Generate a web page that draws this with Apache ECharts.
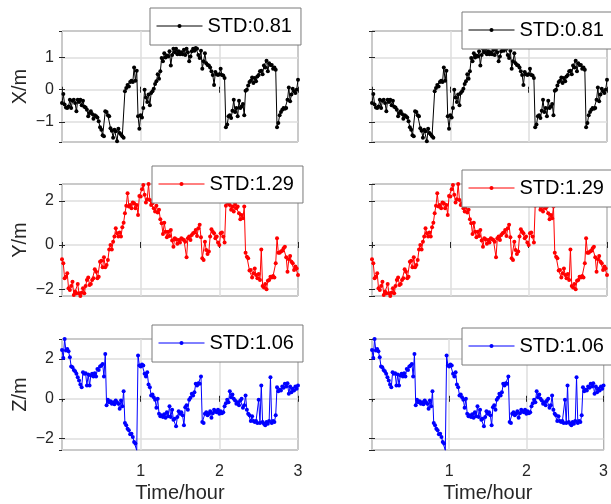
<!DOCTYPE html>
<html>
<head>
<meta charset="utf-8">
<script src="https://cdn.jsdelivr.net/npm/echarts@6/dist/echarts.min.js"></script>
<style>
    html, body { margin: 0; padding: 0; background: #fff; }
    #main { width: 611px; height: 504px; }
</style>
</head>
<body>
<div id="main"></div>
<script>
// position error per axis, one sample per minute over 3 hours
var xValues = [
    -0.41, -0.13, -0.46, -0.55, -0.57, -0.52, -0.31, -0.57, -0.34, -0.31,
    -0.41, -0.67, -0.31, -0.38, -0.31, -0.48, -0.34, -0.53, -0.55, -0.62,
    -0.82, -0.72, -0.67, -0.75, -0.90, -0.79, -0.82, -0.86, -0.98, -1.16,
    -1.24, -1.41, -1.44, -0.67, -0.69, -0.79, -0.82, -1.19, -1.27, -1.49,
    -1.24, -1.29, -1.60, -1.21, -1.34, -1.39, -1.44, -1.49, -0.05, 0.05,
    0.15, 0.10, 0.24, 0.28, 0.24, 0.69, 0.28, 0.59, -0.82, -1.21,
    -0.79, -0.86, -0.57, 0.00, -0.24, -0.38, -0.15, -0.48, -0.10, -0.05,
    0.03, 0.18, 0.26, 0.48, 0.34, 0.57, 0.98, 0.88, 1.13, 1.00,
    1.06, 1.03, 1.19, 0.75, 1.08, 1.27, 1.16, 1.27, 1.10, 1.19,
    1.10, 1.16, 1.10,
    1.24, 1.08, 1.27, 1.16, 0.88, 1.03, 1.19, 1.27, 1.21, 1.29,
    1.27, 1.08, 0.98, 1.21, 0.65, 0.88, 1.13, 0.82, 0.77, 0.75,
    0.69, 0.57, 0.46, 0.15, 0.55, 0.48, 0.46, 0.48, 0.65, 0.46,
    0.44, 0.36, -1.16, -1.08, -0.82, -0.79, -0.88, -0.65, -0.31, -0.69,
    -0.57, -0.82, -0.34, -0.57, -0.52, -0.44, -0.79, -0.03, 0.00, 0.13,
    0.24, 0.28, 0.38, 0.21, 0.36, 0.26, 0.41, 0.46, 0.57, 0.59,
    0.48, 0.75, 0.69, 0.90, 0.57, 0.82, 0.77, 0.77, 0.65, 0.69,
    0.62, -1.16, -1.03, -0.79, -0.69, -0.62, -0.57, -0.59, -0.57, -0.31,
    0.07, -0.36, -0.15, 0.03, -0.05, -0.10, 0.00, 0.31
];

var yValues = [
    -0.65, -0.83, -1.51, -1.44, -1.28, -1.96, -2.04, -1.86, -1.66, -2.27,
    -2.11, -2.19, -1.77, -2.19, -2.31, -2.16, -1.96, -2.19, -1.86, -1.59,
    -1.47, -1.81, -1.77, -1.59, -1.51, -1.10, -1.21, -1.51, -1.44, -0.76,
    -0.71, -1.01, -0.56, -1.01, -0.91, -0.68, -0.20, 0.00, -0.20, 0.15,
    0.38, 0.76, 0.53, 0.38, 0.56, 0.38, 0.80, 1.01, 1.44, 1.77,
    2.34, 1.74, 1.81, 1.66, 1.92, 1.89, 1.66, 1.81, 1.36, 2.22,
    2.19, 2.52, 2.72, 2.27, 1.92, 2.07, 2.76, 2.04, 1.81, 1.89,
    1.66, 1.51, 1.77, 1.47, 1.59, 1.16, 0.98, 0.50, 1.01, 0.60,
    0.35, 0.60, 0.41, 0.68, 0.20, -0.08, 0.30, 0.26, 0.05, 0.23,
    0.11, 0.30, 0.26,
    0.23, 0.15, -0.56, 0.30, 0.38, 0.23, 0.45, 0.53, 0.56, 0.68,
    0.41, 0.76, 0.91, 0.35, -0.60, -0.68, 0.15, -0.23, -0.41, -0.30,
    0.38, 0.71, 0.60, 0.53, 0.30, 0.38, 0.11, 0.00, 0.53, 0.56,
    0.38, 0.11, 1.77, 2.34, 1.89, 1.81, 1.59, 1.74, 1.51, 1.86,
    1.66, 1.74, 1.44, 1.16, 1.36, 1.21, 1.74, -0.35, -0.53, -0.60,
    -1.16, -1.13, -1.47, -1.28, -1.06, -1.36, -1.51, -1.31, -1.59, -0.20,
    -1.86, -1.92, -1.77, -2.01, -1.62, -1.59, -1.44, -1.47, -1.40, -1.47,
    -0.83, 0.30, -0.35, -0.35, -0.30, -0.26, -0.15, -0.08, -0.56, -1.21,
    -0.65, -0.50, -0.76, -0.83, -1.13, -0.98, -1.06, -1.36
];

var zValues = [
    2.45, 2.05, 3.00, 2.42, 2.50, 2.38, 2.08, 1.62, 1.58, 1.45,
    1.38, 1.25, 1.08, 0.92, 0.72, 0.58, 1.33, 1.25, 1.28, 0.67,
    1.22, 0.67, 1.17, 1.25, 1.12, 1.28, 1.12, 1.50, 1.45, 1.62,
    1.67, 1.75, 1.12, 2.25, -0.33, -0.05, -0.17, -0.12, -0.25, -0.17,
    -0.28, -0.08, -0.17, -0.25, -0.50, -0.08, -0.38, 0.38, -1.22, -1.33,
    -1.50, -1.58, -1.78, -1.75, -1.92, -2.17, -2.25, -2.59, 2.17, 1.67,
    1.62, 1.72, 1.67, 1.25, 1.12, 1.33, 0.72, 0.58, 0.17, 0.22,
    0.08, -0.05, -0.45, 0.00, -0.75, -0.88, -0.83, -0.92, -0.78, -0.95,
    -0.67, -0.88, -0.38, -0.92, -0.55, -1.05, -1.00, -1.38, -0.92, -0.62,
    -0.75, -0.67, -0.83,
    -1.33, -0.42, -0.33, -0.55, -0.05, 0.05, 0.25, 0.17, 0.33, 0.75,
    0.67, 0.78, 0.75, 1.12, -1.17, -1.22, -0.75, -0.67, -0.83, -0.75,
    -0.62, -0.95, -0.72, -0.55, -0.62, -0.67, -0.55, -0.75, -0.62, -0.72,
    -0.67, -0.38, -0.22, -0.05, -0.17, 0.38, 0.08, 0.22, 0.00, -0.08,
    -0.25, -0.17, -0.33, -0.08, 0.00, -0.45, -0.33, 0.17, -0.55, -0.75,
    -0.83, -1.12, -0.88, -1.12, -1.17, -1.12, -1.22, -0.05, -1.22, 0.67,
    -1.17, -1.25, -1.33, -1.17, -1.25, -1.12, 1.08, -1.22, -1.12, -1.17,
    -0.83, 0.58, 0.38, 0.45, 0.42, 0.62, 0.55, 0.75, 0.62, 0.78,
    0.25, 0.62, 0.33, 0.50, 0.42, 0.62, 0.50, 0.67
];

var stdLabels = ['STD:0.81', 'STD:1.29', 'STD:1.06'];
var axisNames = ['X/m', 'Y/m', 'Z/m'];
var timeName = 'Time/hour';

// sample times in hours (1 minute steps)
var hours = [];
for (var i = 0; i < xValues.length; i++) {
    hours.push(i / 60);
}

var FONT = 'Liberation Sans, Arial, sans-serif';
var TEXT = '#262626';
var GRID_LINE = '#dedede';

var rows = [
    {values: xValues, color: '#000000', min: -1.62, max: 1.82},
    {values: yValues, color: '#ff0000', min: -2.31, max: 2.76},
    {values: zValues, color: '#0000ff', min: -2.57, max: 3.0}
];

var colLeft = [62, 372];
var colWidth = [236, 235];
var rowTop = [31, 184, 339];
var rowHeight = [111, 112, 111];
var legendLeft = [[150, 462], [152, 462], [152, 462]];
var legendTop = [[8, 12], [166, 170], [325, 328]];

function minusSign(v) {
    return String(v).replace('-', '\u2212');
}

function pairs(values) {
    return values.map(function (v, k) {
        return [hours[k], v];
    });
}

var option = {
    animation: false,
    grid: [], xAxis: [], yAxis: [], series: [], legend: []
};

rows.forEach(function (row, r) {
    for (var c = 0; c < 2; c++) {
        var g = option.grid.length;
        option.grid.push({
            left: colLeft[c], top: rowTop[r], width: colWidth[c], height: rowHeight[r],
            show: true, borderColor: TEXT, borderWidth: 1, backgroundColor: 'transparent'
        });

        // bottom + top x axes (top one only for the box ticks)
        option.xAxis.push({
            type: 'value', gridIndex: g, min: 0, max: 3, interval: 1, position: 'bottom',
            axisLine: {show: false},
            axisTick: {inside: true, length: 3, lineStyle: {color: TEXT}},
            axisLabel: {show: r === 2, showMinLabel: false, margin: 14, fontSize: 16, color: TEXT, fontFamily: FONT},
            splitLine: {show: true, lineStyle: {color: GRID_LINE, width: 1.5}},
            name: r === 2 ? timeName : '', nameLocation: 'middle', nameGap: 33,
            nameTextStyle: {fontSize: 20, color: TEXT, fontFamily: FONT}
        });
        option.xAxis.push({
            type: 'value', gridIndex: g, min: 0, max: 3, interval: 1, position: 'top',
            axisLine: {show: false},
            axisTick: {inside: true, length: 3, lineStyle: {color: TEXT}},
            axisLabel: {show: false}, splitLine: {show: false}
        });

        option.yAxis.push({
            type: 'value', gridIndex: g, min: row.min, max: row.max, splitNumber: 3, position: 'left',
            axisLine: {show: false},
            axisTick: {inside: true, length: 3, lineStyle: {color: TEXT}},
            axisLabel: {
                show: c === 0, showMinLabel: false, showMaxLabel: false, margin: 8,
                fontSize: 16, color: TEXT, fontFamily: FONT, formatter: minusSign
            },
            splitLine: {show: true, lineStyle: {color: GRID_LINE, width: 1.5}},
            name: c === 0 ? axisNames[r] : '', nameLocation: 'middle', nameGap: 32,
            nameTextStyle: {fontSize: 20, color: TEXT, fontFamily: FONT}
        });
        option.yAxis.push({
            type: 'value', gridIndex: g, min: row.min, max: row.max, splitNumber: 3, position: 'right',
            axisLine: {show: false},
            axisTick: {inside: true, length: 3, lineStyle: {color: TEXT}},
            axisLabel: {show: false}, splitLine: {show: false}
        });

        option.series.push({
            type: 'line', name: stdLabels[r],
            xAxisIndex: g * 2, yAxisIndex: g * 2,
            data: pairs(row.values),
            symbol: 'circle', symbolSize: 4,
            lineStyle: {width: 1, color: row.color},
            itemStyle: {color: row.color},
            emphasis: {disabled: true}
        });

        option.legend.push({
            data: [stdLabels[r]], left: legendLeft[r][c], top: legendTop[r][c],
            itemWidth: 46, itemHeight: 5, padding: [8, 9, 9, 6],
            backgroundColor: '#ffffff', borderColor: '#7a7a7a', borderWidth: 1, borderRadius: 0,
            selectedMode: false,
            lineStyle: {width: 1},
            textStyle: {fontSize: 20, color: '#000000', fontFamily: FONT}
        });
    }
});

var myChart = echarts.init(document.getElementById('main'));
myChart.setOption(option);
</script>
</body>
</html>
